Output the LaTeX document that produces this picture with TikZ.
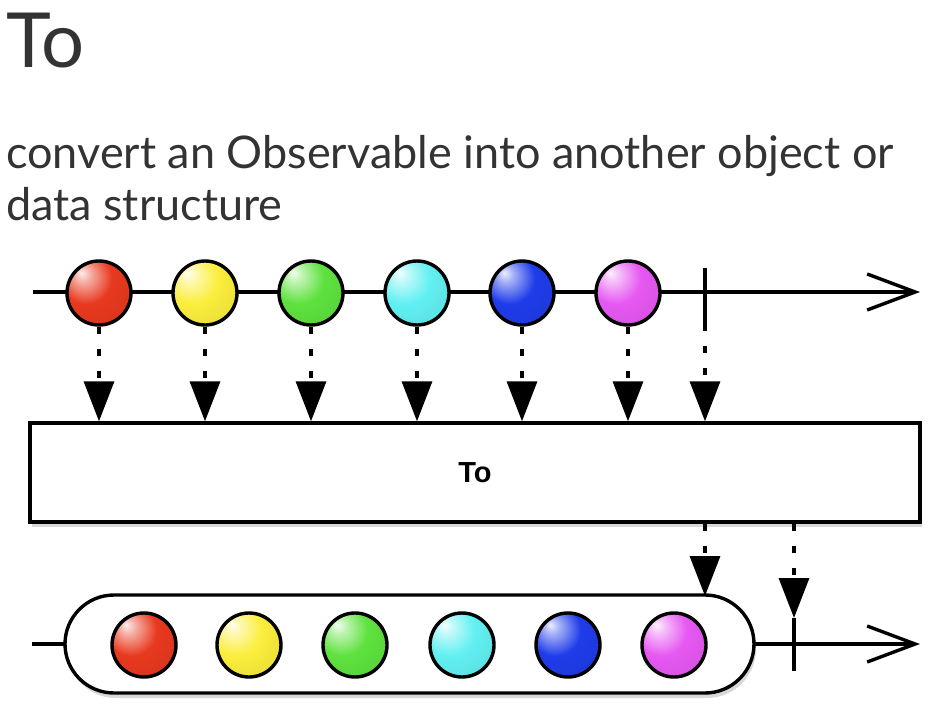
\documentclass[tikz,border=0pt]{standalone}
\usepackage{fontspec}
\setmainfont{Lato}
\newfontfamily\boxfont{Liberation Sans}
\usetikzlibrary{arrows.meta,shadows}
\definecolor{txt}{HTML}{333333}
\definecolor{mred}{HTML}{E8391F}
\definecolor{myellow}{HTML}{FBEE3C}
\definecolor{mgreen}{HTML}{5EE23E}
\definecolor{mcyan}{HTML}{62F0F2}
\definecolor{mblue}{HTML}{1F3CEA}
\definecolor{mmag}{HTML}{E658F2}
\colorlet{mc}{red}
\pgfdeclareradialshading[mc]{marble}{\pgfpoint{-14bp}{16bp}}{%
  color(0bp)=(mc!8!white);
  color(6bp)=(mc!40!white);
  color(20bp)=(mc);
  color(40bp)=(mc!92!black);
  color(58bp)=(mc!60!black);
  color(70bp)=(mc!55!black)}
\tikzset{
  lw/.style={line width=3.4pt},
  marble/.style={circle, draw, lw, minimum size=64pt, inner sep=0pt,
     /utils/exec={\colorlet{mc}{#1}}, shading=marble},
  timeline/.style={lw, -{Straight Barb[length=48pt,width=36pt,line width=3.4pt]}},
  emit/.style={line width=3.4pt, dash pattern=on 7pt off 15pt, -{Triangle[length=40pt,width=30pt]}},
  tickmark/.style={lw},
  softshadow/.style={drop shadow={opacity=0.3, shadow xshift=2pt, shadow yshift=-5pt}},
  heading/.style={anchor=base west, inner sep=0pt, text=txt}
}
\begin{document}
\begin{tikzpicture}[x=1pt,y=-1pt]
\useasboundingbox[fill=white] (0,0) rectangle (946,720);
% texts
\node[heading, font=\fontsize{76}{90}\selectfont] (title) at (6,67) {To};
\node[heading, font=\fontsize{45}{52}\selectfont] (sub1) at (6,168) {convert an Observable into another object or};
\node[heading, font=\fontsize{45}{52}\selectfont] (sub2) at (6,220) {data structure};
% top timeline
\coordinate (s1) at (33,292);
\coordinate (e1) at (920,292);
\draw[timeline] (s1) -- (e1);
\node[marble=mred] (m1) at (99,293) {};
\node[marble=myellow] (m2) at (205,293) {};
\node[marble=mgreen] (m3) at (311,293) {};
\node[marble=mcyan] (m4) at (417,293) {};
\node[marble=mblue] (m5) at (522,293) {};
\node[marble=mmag] (m6) at (628,293) {};
\coordinate (t1a) at (705,268);
\coordinate (t1b) at (705,324);
\draw[tickmark] (t1a) -- (t1b);
% operator box
\node[draw, lw, fill=white, softshadow, minimum width=890pt, minimum height=99pt, inner sep=0pt] (op) at (475,472.5) {};
\node[font=\boxfont\bfseries\fontsize{29}{34}\selectfont] (oplabel) at (op.center) {To};
% emissions down
\foreach \i in {1,...,6}{
  \draw[emit] (m\i.south) -- (m\i.south |- op.north);
}
\draw[emit] (t1b) -- (t1b |- op.north);
% bottom timeline
\coordinate (s2) at (32,644);
\coordinate (e2) at (920,644);
\draw[timeline] (s2) -- (e2);
\node[draw, lw, fill=white, softshadow, minimum width=689pt, minimum height=98pt, rounded corners=49pt, inner sep=0pt] (pill) at (409.5,644) {};
\node[marble=mred] (n1) at (144,645) {};
\node[marble=myellow] (n2) at (249,645) {};
\node[marble=mgreen] (n3) at (355,645) {};
\node[marble=mcyan] (n4) at (462,645) {};
\node[marble=mblue] (n5) at (568,645) {};
\node[marble=mmag] (n6) at (674,645) {};
\coordinate (t2a) at (794,618);
\coordinate (t2b) at (794,671);
\draw[tickmark] (t2a) -- (t2b);
\coordinate (p1) at (705,596);
\draw[emit] (op.south -| p1) -- (p1);
\draw[emit] (op.south -| t2a) -- (t2a);
\end{tikzpicture}
\end{document}
